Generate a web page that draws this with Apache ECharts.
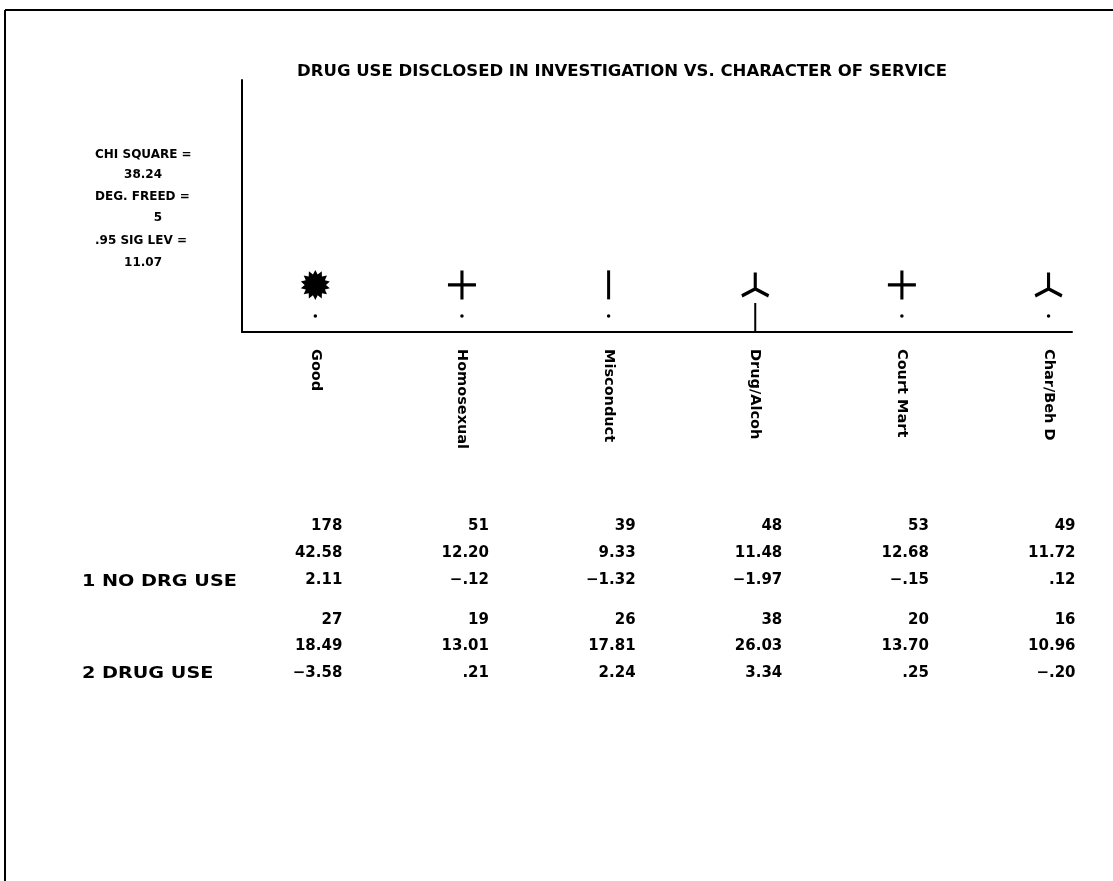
<!DOCTYPE html>
<html><head><meta charset="utf-8">
<script src="https://cdn.jsdelivr.net/npm/echarts/dist/echarts.min.js"></script>
<style>html,body{margin:0;padding:0;background:#fff}#c{width:1113px;height:881px}</style>
</head><body><div id="c"></div>
<script>
// ---------------- data ----------------
const titleText = 'DRUG USE DISCLOSED IN INVESTIGATION VS. CHARACTER OF SERVICE';
const categories = ['Good', 'Homosexual', 'Misconduct', 'Drug/Alcoh', 'Court Mart', 'Char/Beh D'];
const markerLevel = [1.87, 1.87, 1.87, 1.87, 1.87, 1.87];
const dotLevel = [0.63, 0.63, 0.63, null, 0.63, 0.63];
const stemLevel = [null, null, null, 1.15, null, null];
const rowLabels = ['1 NO DRG USE', '2 DRUG USE'];
const counts1 = [178, 51, 39, 48, 53, 49];
const percent1 = [42.58, 12.20, 9.33, 11.48, 12.68, 11.72];
const resid1 = [2.11, -0.12, -1.32, -1.97, -0.15, 0.12];
const counts2 = [27, 19, 26, 38, 20, 16];
const percent2 = [18.49, 13.01, 17.81, 26.03, 13.70, 10.96];
const resid2 = [-3.58, 0.21, 2.24, 3.34, 0.25, -0.20];
const statLabels = ['CHI SQUARE =', 'DEG. FREED =', '.95 SIG LEV ='];
const statValues = ['38.24', '5', '11.07'];

// ---------------- styles / layout ----------------
const markerShape = ['burst', 'plus', 'vbar', 'turnedY', 'plus', 'turnedY'];
function burstPath(n, R, r) {
  let d = '';
  for (let k = 0; k < 2 * n; k++) {
    const a = Math.PI * k / n;
    const rad = k % 2 === 0 ? R : r;
    d += (k === 0 ? 'M' : 'L') + (R + rad * Math.sin(a)).toFixed(2) + ',' + (R - rad * Math.cos(a)).toFixed(2);
  }
  return 'path://' + d + 'Z';
}
const SHAPES = {
  burst: { symbol: burstPath(14, 14, 10), size: [29, 30] },
  plus: { symbol: 'path://M12,0h3v28h-3zM0,12.5h27v3h-27z', size: [28, 29] },
  vbar: { symbol: 'path://M0,0h3v28h-3z', size: [3, 29] },
  turnedY: { symbol: 'path://M12,0L15,0L15,15L27,21.5L25.8,24.5L13.5,18L1.2,24.5L0,21.5L12,15Z', size: [28, 25] }
};
const tableRowPos = [0.5, 1.5, 2.5, 4, 5, 6];
const FONT = '"DejaVu Sans", "Liberation Sans", sans-serif';
const XMAX = 5.66;

function fmt(v, dec) {
  let s = Math.abs(v).toFixed(dec);
  if (s.startsWith('0.')) s = s.slice(1);
  return (v < 0 ? '\u2212' : '') + s;
}

const tableRows = [
  counts1.map(v => String(v)), percent1.map(v => fmt(v, 2)), resid1.map(v => fmt(v, 2)),
  counts2.map(v => String(v)), percent2.map(v => fmt(v, 2)), resid2.map(v => fmt(v, 2))
];

const chart = echarts.init(document.getElementById('c'), null, { renderer: 'canvas' });

const series = [];
series.push({
  type: 'scatter', xAxisIndex: 0, yAxisIndex: 0, silent: true,
  data: categories.map((c, i) => ({
    value: [i + 0.5, markerLevel[i]],
    symbol: SHAPES[markerShape[i]].symbol,
    symbolSize: SHAPES[markerShape[i]].size
  })),
  symbolKeepAspect: false,
  itemStyle: { color: '#000', opacity: 1 }
});
series.push({
  type: 'scatter', xAxisIndex: 0, yAxisIndex: 0, silent: true,
  data: categories.map((c, i) => dotLevel[i] == null ? null : [i + 0.5, dotLevel[i]]).filter(d => d),
  symbol: 'circle', symbolSize: 3.5,
  itemStyle: { color: '#000', opacity: 1 }
});
categories.forEach((c, i) => {
  if (stemLevel[i] == null) return;
  series.push({
    type: 'line', xAxisIndex: 0, yAxisIndex: 0, silent: true,
    data: [[i + 0.5, 0], [i + 0.5, stemLevel[i]]],
    symbol: 'none', lineStyle: { color: '#000', width: 2 }
  });
});
tableRows.forEach((row, r) => {
  series.push({
    type: 'scatter', xAxisIndex: 1, yAxisIndex: 1, silent: true,
    symbolSize: 1, itemStyle: { color: 'rgba(0,0,0,0)', opacity: 1 },
    data: row.map((t, i) => ({ value: [i + 0.5, tableRowPos[r]], txt: t })),
    label: {
      show: true, position: 'inside', align: 'right', verticalAlign: 'middle',
      offset: [27, 0], formatter: p => p.data.txt,
      color: '#000', opacity: 1, fontFamily: FONT, fontWeight: 'bold', fontSize: 15
    }
  });
});

const graphic = [
  { type: 'line', shape: { x1: 5, y1: 10, x2: 1113, y2: 10 }, style: { stroke: '#000', lineWidth: 2 } },
  { type: 'line', shape: { x1: 5, y1: 10, x2: 5, y2: 881 }, style: { stroke: '#000', lineWidth: 2 } },
  { type: 'text', x: 622, y: 72, style: { text: titleText, fill: '#000', font: 'bold 16.5px ' + FONT, textAlign: 'center', textVerticalAlign: 'middle' } }
];
const statY = [155, 197, 241];
const statValY = [175, 218, 263];
statLabels.forEach((t, i) => {
  graphic.push({ type: 'text', x: 95, y: statY[i], style: { text: t, fill: '#000', font: 'bold 12px ' + FONT, textAlign: 'left', textVerticalAlign: 'middle' } });
  graphic.push({ type: 'text', x: 162, y: statValY[i], style: { text: statValues[i], fill: '#000', font: 'bold 12px ' + FONT, textAlign: 'right', textVerticalAlign: 'middle' } });
});
const rowLabelY = [582, 674];
rowLabels.forEach((t, i) => {
  graphic.push({ type: 'text', x: 82, y: rowLabelY[i], scaleX: 1.28, style: { text: t, fill: '#000', font: 'bold 15px ' + FONT, textAlign: 'left', textVerticalAlign: 'middle' } });
});

chart.setOption({
  animation: false,
  backgroundColor: '#fff',
  grid: [
    { left: 242, top: 80, width: 830, height: 252 },
    { left: 242, top: 513, width: 830, height: 173.33 }
  ],
  xAxis: [
    {
      type: 'value', gridIndex: 0, min: 0, max: XMAX, interval: 0.5,
      axisLine: { show: true, lineStyle: { color: '#000', width: 2 } },
      axisTick: { show: false }, splitLine: { show: false },
      axisLabel: {
        show: true, rotate: -90, margin: 17, color: '#000', fontFamily: FONT, fontWeight: 'bold', fontSize: 14.5,
        showMinLabel: true, showMaxLabel: false,
        formatter: v => {
          const i = v - 0.5;
          if (Math.abs(i - Math.round(i)) < 1e-6 && Math.round(i) >= 0 && Math.round(i) < categories.length) return categories[Math.round(i)];
          return '';
        }
      }
    },
    { type: 'value', gridIndex: 1, min: 0, max: XMAX, show: false }
  ],
  yAxis: [
    {
      type: 'value', gridIndex: 0, min: 0, max: 10,
      axisLine: { show: true, lineStyle: { color: '#000', width: 2 } },
      axisTick: { show: false }, splitLine: { show: false }, axisLabel: { show: false }
    },
    { type: 'value', gridIndex: 1, min: 0, max: 6.5, inverse: true, show: false }
  ],
  graphic: graphic,
  series: series
});
</script>
</body></html>
